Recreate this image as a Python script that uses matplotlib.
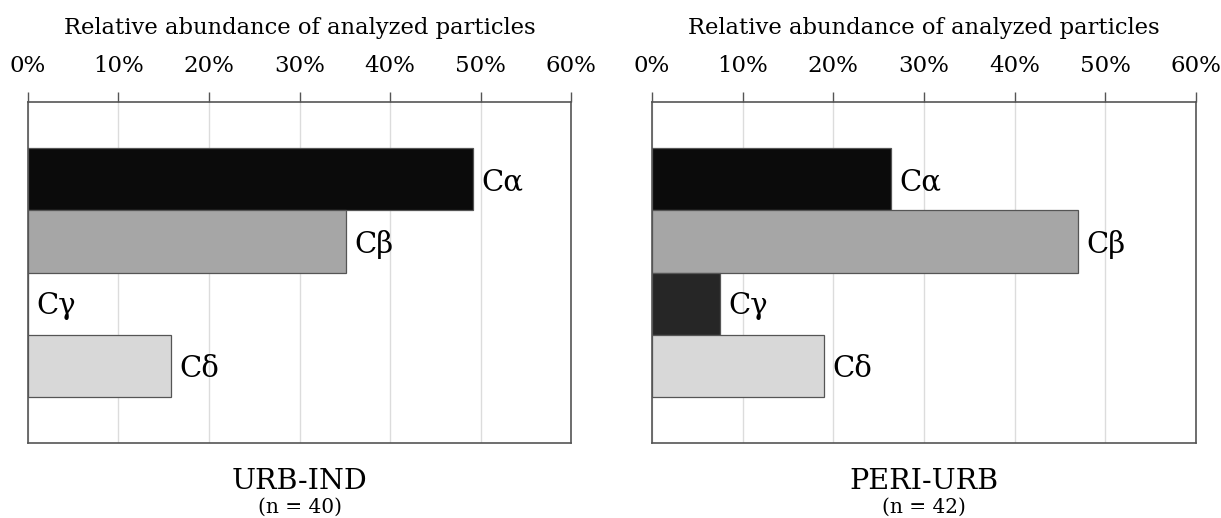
## horizontal bar chart of particle class abundance for two sites

import matplotlib
matplotlib.use("Agg")
import matplotlib.pyplot as plt
from matplotlib.ticker import PercentFormatter

plt.rcParams['font.family'] = ['DejaVu Serif']

classes = ["C\u03b1", "C\u03b2", "C\u03b3", "C\u03b4"]
urb_ind = [49.2, 35.1, 0.0, 15.8]
peri_urb = [26.4, 47.0, 7.5, 19.0]
sites = ["URB-IND", "PERI-URB"]
counts = [40, 42]
colors = ["#0b0b0b", "#a6a6a6", "#262626", "#d8d8d8"]
xticks = [0, 10, 20, 30, 40, 50, 60]

fig = plt.figure(figsize=(12.21, 5.18), dpi=100)
ax1 = fig.add_axes([0.0229, 0.1448, 0.4448, 0.658])
ax2 = fig.add_axes([0.534, 0.1448, 0.4455, 0.658])

edge = "#555555"
for ax, vals, site, n in zip([ax1, ax2], [urb_ind, peri_urb], sites, counts):
    ypos = range(len(classes))
    ax.barh(ypos, vals, height=1.0, color=colors, edgecolor=edge, linewidth=0.9, zorder=3)
    for y, v, lab in zip(ypos, vals, classes):
        ax.annotate(lab, (v, y), xytext=(6, -2), textcoords="offset points",
                    va="center", ha="left", fontsize=21)
    ax.set_xlim(0, 60)
    ax.set_ylim(4.24, -1.24)
    ax.set_xticks(xticks)
    ax.xaxis.set_major_formatter(PercentFormatter(decimals=0))
    ax.xaxis.tick_top()
    ax.tick_params(axis="x", direction="out", length=7, width=1, color=edge,
                   labelsize=16.5, pad=11)
    ax.set_yticks([])
    ax.grid(axis="x", color="#dcdcdc", linewidth=1, zorder=0)
    for s in ax.spines.values():
        s.set_color(edge)
        s.set_linewidth(1.2)
    ax.text(0.5, 1.217, "Relative abundance of analyzed particles", transform=ax.transAxes,
            ha="center", va="center", fontsize=16.3)
    ax.text(0.5, -0.114, site, transform=ax.transAxes, ha="center", va="center", fontsize=20.5)
    ax.text(0.5, -0.19, "(n = %d)" % n, transform=ax.transAxes, ha="center", va="center",
            fontsize=14.5)

fig.savefig("out.png", dpi=100)
